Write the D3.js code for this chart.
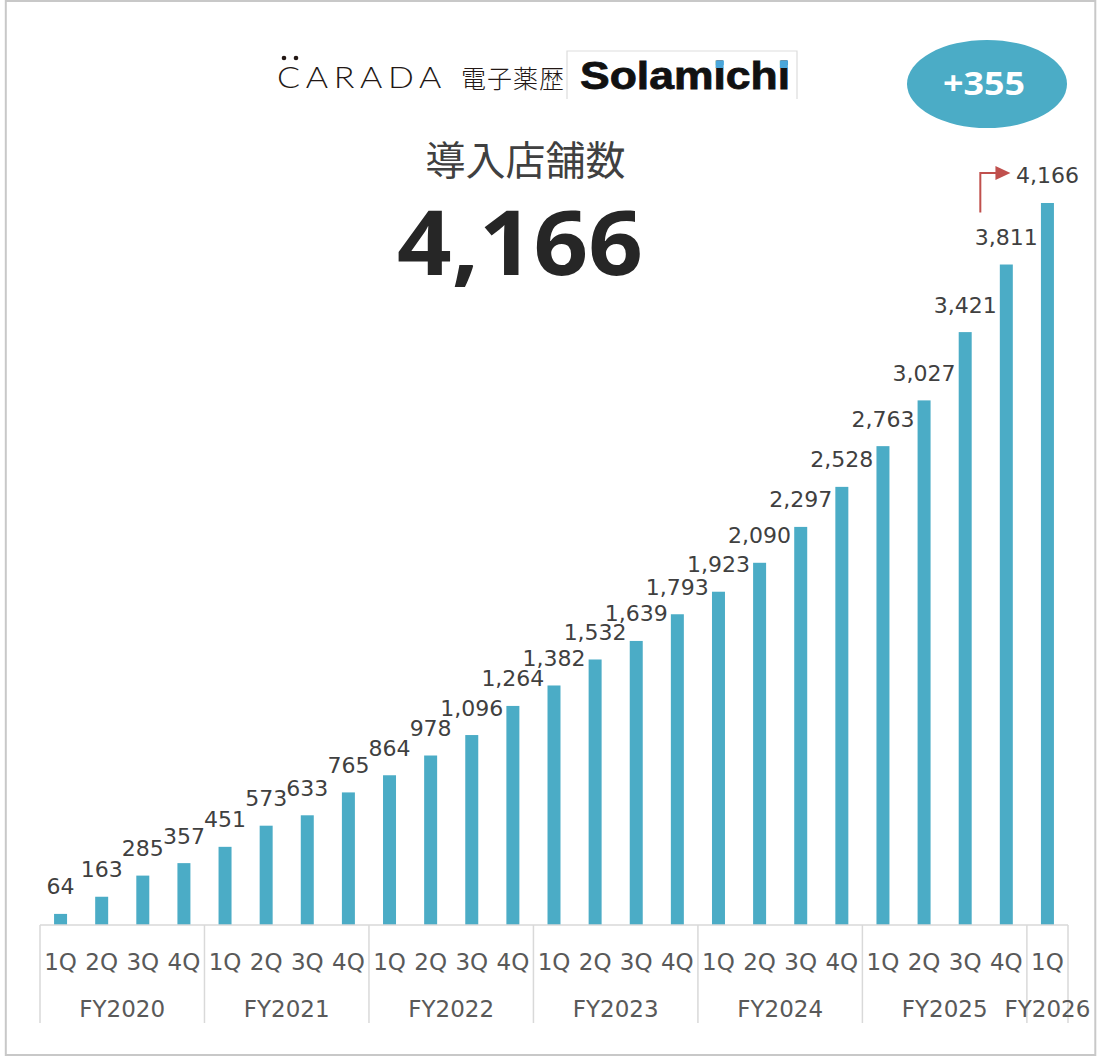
<!DOCTYPE html>
<html>
<head>
<meta charset="utf-8">
<script src="https://cdn.jsdelivr.net/npm/d3@7"></script>
<style>
  body { margin: 0; background: #fff; }
  svg { display: block; }
</style>
</head>
<body>
<div id="chart"></div>
<script>
// ---- data ----
const fiscalYears = ['FY2020', 'FY2021', 'FY2022', 'FY2023', 'FY2024', 'FY2025', 'FY2026'];
const quartersPerYear = [4, 4, 4, 4, 4, 4, 1];
const quarterLabels = [
  '1Q', '2Q', '3Q', '4Q', '1Q', '2Q', '3Q', '4Q', '1Q', '2Q', '3Q', '4Q',
  '1Q', '2Q', '3Q', '4Q', '1Q', '2Q', '3Q', '4Q', '1Q', '2Q', '3Q', '4Q', '1Q'
];
const storeCounts = [
  64, 163, 285, 357, 451, 573, 633, 765, 864, 978, 1096, 1264,
  1382, 1532, 1639, 1793, 1923, 2090, 2297, 2528, 2763, 3027, 3421, 3811, 4166
];
const titleText = '導入店舗数';

const width = 1097;
const height = 1057;
const barColor = '#4BACC6';
const fmt = d3.format(',');

const svg = d3.select('#chart').append('svg')
  .attr('width', width)
  .attr('height', height);

// outer frame
svg.append('rect')
  .attr('x', 5.8).attr('y', 1)
  .attr('width', 1089.5).attr('height', 1054)
  .attr('fill', 'none')
  .attr('stroke', '#C8C8C8')
  .attr('stroke-width', 2);

// scales
const plotLeft = 40, plotRight = 1068, baseY = 925;
const x = d3.scaleBand()
  .domain(d3.range(storeCounts.length))
  .range([plotLeft, plotRight])
  .paddingInner(0.684)
  .paddingOuter(0.342);
const xCat = d3.scaleBand()
  .domain(d3.range(storeCounts.length))
  .range([plotLeft, plotRight]);
const y = d3.scaleLinear()
  .domain([0, 4500])
  .range([baseY, baseY - 4500 * 0.17331]);

const cx = i => x(i) + x.bandwidth() / 2;

// bars
svg.append('g').selectAll('rect')
  .data(storeCounts)
  .join('rect')
  .attr('x', (d, i) => x(i))
  .attr('y', d => y(d))
  .attr('width', x.bandwidth())
  .attr('height', d => y(0) - y(d))
  .attr('fill', barColor);

// data labels
svg.append('g')
  .attr('font-family', '"DejaVu Sans", Verdana, sans-serif')
  .attr('font-size', 22)
  .attr('fill', '#404040')
  .attr('text-anchor', 'middle')
  .selectAll('text')
  .data(storeCounts)
  .join('text')
  .attr('x', (d, i) => cx(i))
  .attr('y', d => y(d) - 19.5)
  .text(d => fmt(d));

// category axis: quarter labels
const axisG = svg.append('g')
  .attr('transform', `translate(0,${baseY})`)
  .call(d3.axisBottom(x).tickSize(0).tickPadding(29).tickFormat(i => quarterLabels[i]));
axisG.select('.domain').remove();
axisG.selectAll('text')
  .attr('font-family', '"DejaVu Sans", Verdana, sans-serif')
  .attr('font-size', 23)
  .attr('fill', '#595959');

// baseline and group dividers
svg.append('line')
  .attr('x1', plotLeft).attr('x2', plotRight)
  .attr('y1', baseY).attr('y2', baseY)
  .attr('stroke', '#D9D9D9').attr('stroke-width', 1.5);

const groupStarts = [0];
quartersPerYear.forEach(n => groupStarts.push(groupStarts[groupStarts.length - 1] + n));
const boundaryX = i => i >= storeCounts.length ? plotRight : xCat(i);

svg.append('g').selectAll('line')
  .data(groupStarts)
  .join('line')
  .attr('x1', d => boundaryX(d)).attr('x2', d => boundaryX(d))
  .attr('y1', baseY).attr('y2', 1023)
  .attr('stroke', '#D9D9D9').attr('stroke-width', 1.5);

svg.append('g')
  .attr('font-family', '"DejaVu Sans", Verdana, sans-serif')
  .attr('font-size', 23)
  .attr('fill', '#595959')
  .attr('text-anchor', 'middle')
  .selectAll('text')
  .data(fiscalYears)
  .join('text')
  .attr('x', (d, i) => (boundaryX(groupStarts[i]) + boundaryX(groupStarts[i + 1])) / 2)
  .attr('y', 1017)
  .text(d => d);

// ---- headline ----
const last = storeCounts.length - 1;
const latest = storeCounts[last];
const increase = storeCounts[last] - storeCounts[last - 1];

svg.append('text')
  .attr('x', 525.5).attr('y', 158)
  .attr('text-anchor', 'middle')
  .attr('dominant-baseline', 'central')
  .attr('font-family', '"Noto Sans CJK JP", sans-serif')
  .attr('font-size', 40)
  .attr('fill', '#404040')
  .text(titleText);

svg.append('text')
  .attr('x', 397).attr('y', 275)
  .attr('font-family', '"Noto Sans", sans-serif')
  .attr('font-weight', 'bold')
  .attr('font-size', 89)
  .attr('fill', '#262626')
  .attr('textLength', 246)
  .attr('lengthAdjust', 'spacingAndGlyphs')
  .text(fmt(latest));

// increase bubble
svg.append('ellipse')
  .attr('cx', 987).attr('cy', 84)
  .attr('rx', 80).attr('ry', 44)
  .attr('fill', barColor);
svg.append('text')
  .attr('x', 943).attr('y', 95)
  .attr('font-family', '"Noto Sans", sans-serif')
  .attr('font-weight', 'bold')
  .attr('font-size', 32)
  .attr('fill', '#fff')
  .attr('textLength', 82)
  .attr('lengthAdjust', 'spacingAndGlyphs')
  .text('+' + increase);

// elbow arrow from previous quarter to latest label
const arrowX = cx(last - 1) - 26;
const arrowY0 = y(storeCounts[last - 1]) - 52;
const arrowY1 = y(latest) - 30;
const tipX = cx(last) - 37;
svg.append('path')
  .attr('d', `M${arrowX},${arrowY0} V${arrowY1} H${tipX - 13}`)
  .attr('fill', 'none')
  .attr('stroke', '#C0504D')
  .attr('stroke-width', 2);
svg.append('path')
  .attr('d', `M${tipX - 15},${arrowY1 - 7} L${tipX},${arrowY1} L${tipX - 15},${arrowY1 + 7} Z`)
  .attr('fill', '#C0504D');

// ---- logos ----
const logo = svg.append('g');
logo.selectAll('circle')
  .data([284, 296])
  .join('circle')
  .attr('cx', d => d).attr('cy', 58).attr('r', 2.3)
  .attr('fill', '#231815');
logo.append('text')
  .attr('x', 277).attr('y', 88)
  .attr('font-family', 'Lato, sans-serif')
  .attr('font-weight', 300)
  .attr('font-size', 30)
  .attr('letter-spacing', 5)
  .attr('fill', '#231815')
  .attr('textLength', 170)
  .attr('lengthAdjust', 'spacingAndGlyphs')
  .text('CARADA');
logo.append('text')
  .attr('x', 461).attr('y', 77)
  .attr('dominant-baseline', 'central')
  .attr('font-family', '"Noto Sans CJK JP", sans-serif')
  .attr('font-weight', 300)
  .attr('font-size', 25)
  .attr('fill', '#231815')
  .attr('textLength', 103)
  .attr('lengthAdjust', 'spacing')
  .text('電子薬歴');

logo.append('path')
  .attr('d', 'M567,99 V51 H797 V99')
  .attr('fill', 'none')
  .attr('stroke', '#DDDDDD')
  .attr('stroke-width', 1.2);
const sola = logo.append('text')
  .attr('x', 580).attr('y', 89)
  .attr('font-family', '"Liberation Sans", Arial, sans-serif')
  .attr('font-weight', 'bold')
  .attr('font-size', 38)
  .attr('fill', '#111')
  .attr('stroke', '#111')
  .attr('stroke-width', 0.8)
  .attr('textLength', 210)
  .attr('lengthAdjust', 'spacingAndGlyphs')
  .text('Solamichi');

// blue dots over the i's
[5, 8].forEach(ci => {
  let bx;
  try {
    const ext = sola.node().getExtentOfChar(ci);
    bx = ext.x + ext.width / 2;
  } catch (e) {
    bx = ci === 5 ? 712 : 788;
  }
  logo.append('rect')
    .attr('x', bx - 4).attr('y', 89 - 38 * 0.75)
    .attr('width', 8).attr('height', 7.5)
    .attr('fill', '#4BA6DA');
});
</script>
</body>
</html>
